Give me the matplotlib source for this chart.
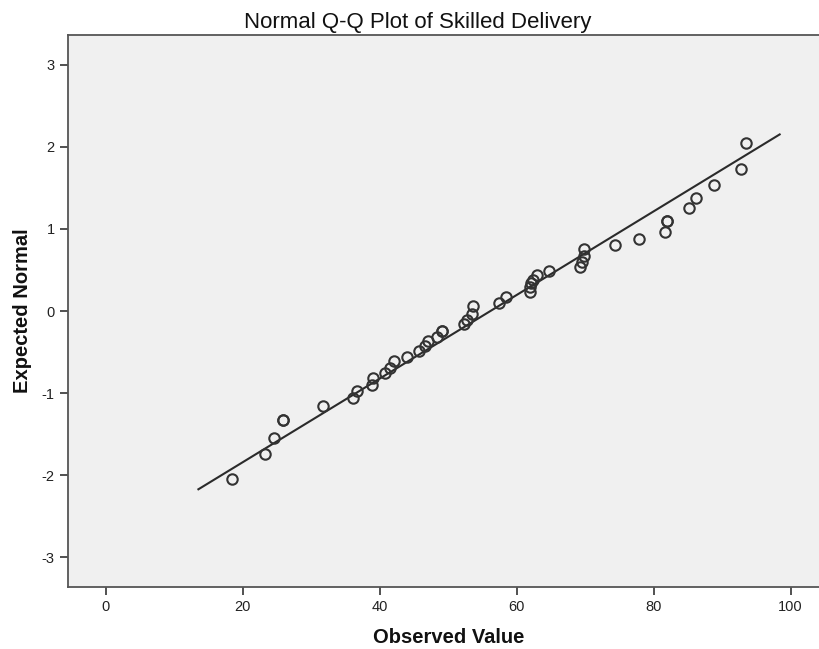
import matplotlib
matplotlib.use("Agg")
import matplotlib.pyplot as plt

plt.rcParams['font.family'] = ['Liberation Sans', 'DejaVu Sans']
plt.rcParams['axes.unicode_minus'] = False

observed = [18.4, 23.2, 24.6, 25.9, 25.9, 31.7, 36.1, 36.7, 38.8, 39.0,
            40.7, 41.5, 42.1, 43.9, 45.7, 46.6, 47.1, 48.3, 49.1, 49.1,
            52.3, 52.7, 53.4, 53.6, 57.4, 58.5, 62.0, 62.0, 62.1, 62.3,
            63.0, 64.7, 69.3, 69.6, 69.8, 69.8, 74.4, 77.9, 81.6, 82.0,
            82.0, 85.1, 86.2, 88.8, 92.7, 93.5]
expected = [-2.05, -1.74, -1.55, -1.33, -1.33, -1.16, -1.06, -0.97, -0.90, -0.81,
            -0.75, -0.69, -0.61, -0.56, -0.49, -0.43, -0.37, -0.32, -0.24, -0.24,
            -0.16, -0.11, -0.04, 0.06, 0.10, 0.17, 0.23, 0.29, 0.34, 0.38,
            0.44, 0.49, 0.54, 0.60, 0.67, 0.75, 0.81, 0.88, 0.96, 1.10,
            1.10, 1.25, 1.38, 1.54, 1.73, 2.04]

# reference line
line_x = [13.5, 98.4]
line_y = [-2.17, 2.15]

xticks = [0, 20, 40, 60, 80, 100]
yticks = [-3, -2, -1, 0, 1, 2, 3]

fig = plt.figure(figsize=(8.19, 6.49), dpi=100)
# the plot frame runs past the right edge of the picture
ax = fig.add_axes([0.083, 0.0955, 0.930, 0.8505])
ax.set_facecolor("#f0f0f0")

ax.plot(line_x, line_y, color="#2b2b2b", lw=1.5, zorder=2)
ax.plot(observed, expected, "o", mfc="none", mec="#333333", mew=1.5,
        ms=7.5, zorder=3)

ax.set_xlim(-5.55, 105.7)
ax.set_ylim(-3.36, 3.36)
ax.set_xticks(xticks)
ax.set_yticks(yticks)
ax.tick_params(direction="out", length=6, width=1.2, color="#333333",
               labelsize=10.5, labelcolor="#222222")
for s in ax.spines.values():
    s.set_color("#555555")
    s.set_linewidth(1.3)
ax.spines["right"].set_visible(False)

fig.text(418 / 819, 1 - 28 / 649, "Normal Q-Q Plot of Skilled Delivery",
         fontsize=16, ha="center", va="baseline", color="#111111")
ax.set_xlabel("Observed Value", fontsize=14.5, fontweight="bold", labelpad=10,
              color="#111111")
ax.set_ylabel("Expected Normal", fontsize=14.5, fontweight="bold", labelpad=7,
              color="#111111")

fig.savefig("out.png", dpi=100)
